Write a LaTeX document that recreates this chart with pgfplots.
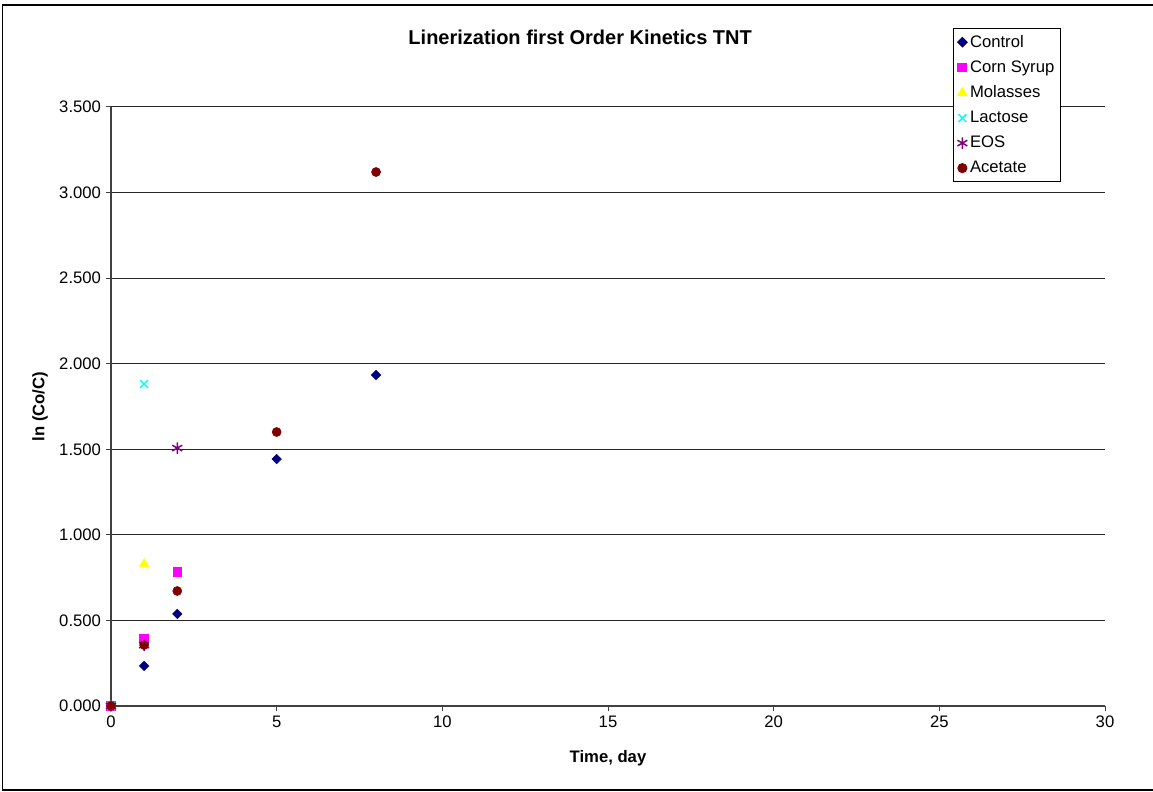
\documentclass[border=0pt]{standalone}
\usepackage{pgfplots}
\pgfplotsset{compat=1.18}
\usepackage{fontspec}
\setmainfont{Liberation Sans}
\definecolor{cControl}{RGB}{0,0,128}
\definecolor{cCorn}{RGB}{255,0,255}
\definecolor{cMol}{RGB}{255,255,0}
\definecolor{cLac}{RGB}{0,255,255}
\definecolor{cEOS}{RGB}{128,0,128}
\definecolor{cAce}{RGB}{128,0,0}
\newcommand{\fs}{\fontsize{12.5}{15}\selectfont}
\begin{document}
\begin{tikzpicture}[x=0.75pt,y=0.75pt]
\useasboundingbox (0,0) rectangle (1153,792);
\draw[black, line width=1pt] (2.5,2) rectangle (1160,787);
\begin{axis}[
  at={(111*0.75pt,86*0.75pt)}, anchor=south west,
  scale only axis, width=745.5pt, height=449.25pt,
  xmin=0, xmax=30, ymin=0, ymax=3.5,
  xtick={0,5,...,30}, ytick={0,0.5,...,3.5},
  axis x line=bottom, axis y line=left,
  axis line style={-, black!75, line width=1pt},
  tick align=outside, major tick length=4pt,
  tick style={black!75, line width=0.75pt},
  ymajorgrids, grid style={black!85, line width=0.75pt},
  yticklabel style={/pgf/number format/.cd, fixed, fixed zerofill, precision=3},
  /pgf/number format/assume math mode=true,
  ticklabel style={font=\fs},
  title={\textbf{Linerization first Order Kinetics TNT}},
  title style={at={(axis description cs:0.472,1.1035)}, anchor=center, font=\fontsize{15}{18}\selectfont},
  xlabel={\textbf{Time, day}},
  ylabel={\textbf{ln (Co/C)}},
  xlabel style={at={(axis description cs:0.5,-0.0868)}, anchor=center, font=\fs},
  ylabel style={at={(axis description cs:-0.0714,0.5)}, anchor=center, rotate=0, font=\fs},
  legend style={at={(axis description cs:0.847,1.1319)}, anchor=north west,
    font=\fs, draw=black, line width=0.75pt, row sep=4.6pt, inner xsep=3pt, inner ysep=3pt},
  legend cell align=left,
  clip=false,
]
\addplot[only marks, mark=square*, mark size=2.5pt, mark options={rotate=45}, color=cControl] coordinates {
(0,0) (1,0.234) (2,0.538) (5,1.443) (8,1.934)};
\addlegendentry{Control}
\addplot[only marks, mark=square*, mark size=3.3pt, color=cCorn] coordinates {
(0,0) (1,0.391) (2,0.783)};
\addlegendentry{Corn Syrup}
\addplot[only marks, mark=triangle*, mark size=4pt, color=cMol] coordinates {
(0,0) (1,0.830)};
\addlegendentry{Molasses}
\addplot[only marks, mark=x, mark size=4.2pt, line width=1.1pt, color=cLac] coordinates {
(0,0) (1,1.881)};
\addlegendentry{Lactose}
\addplot[only marks, mark=asterisk, mark size=4.3pt, line width=1.1pt, color=cEOS] coordinates {
(0,0) (1,0.356) (2,1.507)};
\addlegendentry{EOS}
\addplot[only marks, mark=*, mark size=3.4pt, color=cAce] coordinates {
(0,0) (1,0.356) (2,0.672) (5,1.601) (8,3.120)};
\addlegendentry{Acetate}
\end{axis}
\end{tikzpicture}
\end{document}
